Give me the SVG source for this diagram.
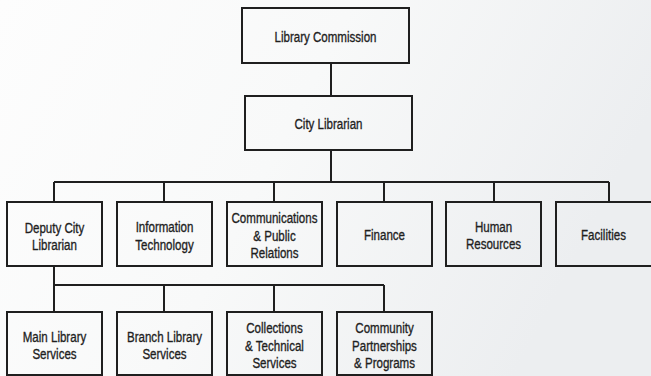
<svg xmlns="http://www.w3.org/2000/svg" width="651" height="376" viewBox="0 0 651 376">
<defs>
<linearGradient id="bg" x1="0" y1="0" x2="1" y2="0.3">
<stop offset="0" stop-color="#fdfdfd"/>
<stop offset="0.5" stop-color="#f8f9f9"/>
<stop offset="1" stop-color="#eceef0"/>
</linearGradient>
<style>
.box{fill:none;stroke:#1f1f1f;stroke-width:2}
.ln{fill:none;stroke:#1f1f1f;stroke-width:2}
text{font-family:"Liberation Sans",Arial,sans-serif;font-size:15px;fill:#1f1f1f;stroke:#1f1f1f;stroke-width:0.35;text-anchor:middle}
</style>
</defs>
<rect x="0" y="0" width="651" height="376" fill="url(#bg)"/>
<g id="connectors" class="ln">
<path d="M331 63V96M331 150V182M54 182H609M54 182V202M164 182V202M274 182V202M384 182V202M494 182V202M609 182V202"/>
<path d="M54 266V312M54 285H384M164 285V312M274 285V312M384 285V312"/>
</g>
<g id="library-commission"><rect class="box" x="242" y="8" width="167" height="55"/><text transform="matrix(0.77 0 0 1 325.5 41.5)">Library Commission</text></g>
<g id="city-librarian"><rect class="box" x="245" y="96" width="167" height="54"/><text transform="matrix(0.77 0 0 1 328.5 128.7)">City Librarian</text></g>
<g id="deputy-city-librarian"><rect class="box" x="7" y="202" width="95" height="64"/><text transform="matrix(0.77 0 0 1 54.5 232.7)">Deputy City</text><text transform="matrix(0.77 0 0 1 54.5 250)">Librarian</text></g>
<g id="information-technology"><rect class="box" x="117" y="202" width="95" height="64"/><text transform="matrix(0.77 0 0 1 164.5 232.3)">Information</text><text transform="matrix(0.77 0 0 1 164.5 250)">Technology</text></g>
<g id="communications"><rect class="box" x="227" y="202" width="95" height="64"/><text transform="matrix(0.77 0 0 1 274.5 223.3)">Communications</text><text transform="matrix(0.77 0 0 1 274.5 240.7)">&amp; Public</text><text transform="matrix(0.77 0 0 1 274.5 258.3)">Relations</text></g>
<g id="finance"><rect class="box" x="337" y="202" width="95" height="64"/><text transform="matrix(0.77 0 0 1 384.5 240.3)">Finance</text></g>
<g id="human-resources"><rect class="box" x="446" y="202" width="95" height="64"/><text transform="matrix(0.77 0 0 1 493.5 231.7)">Human</text><text transform="matrix(0.77 0 0 1 493.5 249.3)">Resources</text></g>
<g id="facilities"><rect class="box" x="556" y="202" width="107" height="64"/><text transform="matrix(0.77 0 0 1 603.5 240.3)">Facilities</text></g>
<g id="main-library-services"><rect class="box" x="7" y="312" width="95" height="63"/><text transform="matrix(0.77 0 0 1 54.5 342.3)">Main Library</text><text transform="matrix(0.77 0 0 1 54.5 359.3)">Services</text></g>
<g id="branch-library-services"><rect class="box" x="117" y="312" width="95" height="63"/><text transform="matrix(0.77 0 0 1 164.5 342.3)">Branch Library</text><text transform="matrix(0.77 0 0 1 164.5 359.3)">Services</text></g>
<g id="collections-technical-services"><rect class="box" x="227" y="312" width="95" height="63"/><text transform="matrix(0.77 0 0 1 274.5 333.3)">Collections</text><text transform="matrix(0.77 0 0 1 274.5 350.7)">&amp; Technical</text><text transform="matrix(0.77 0 0 1 274.5 368.3)">Services</text></g>
<g id="community-partnerships-programs"><rect class="box" x="337" y="312" width="95" height="63"/><text transform="matrix(0.77 0 0 1 384.5 333.3)">Community</text><text transform="matrix(0.77 0 0 1 384.5 350.7)">Partnerships</text><text transform="matrix(0.77 0 0 1 384.5 368.3)">&amp; Programs</text></g>
</svg>
